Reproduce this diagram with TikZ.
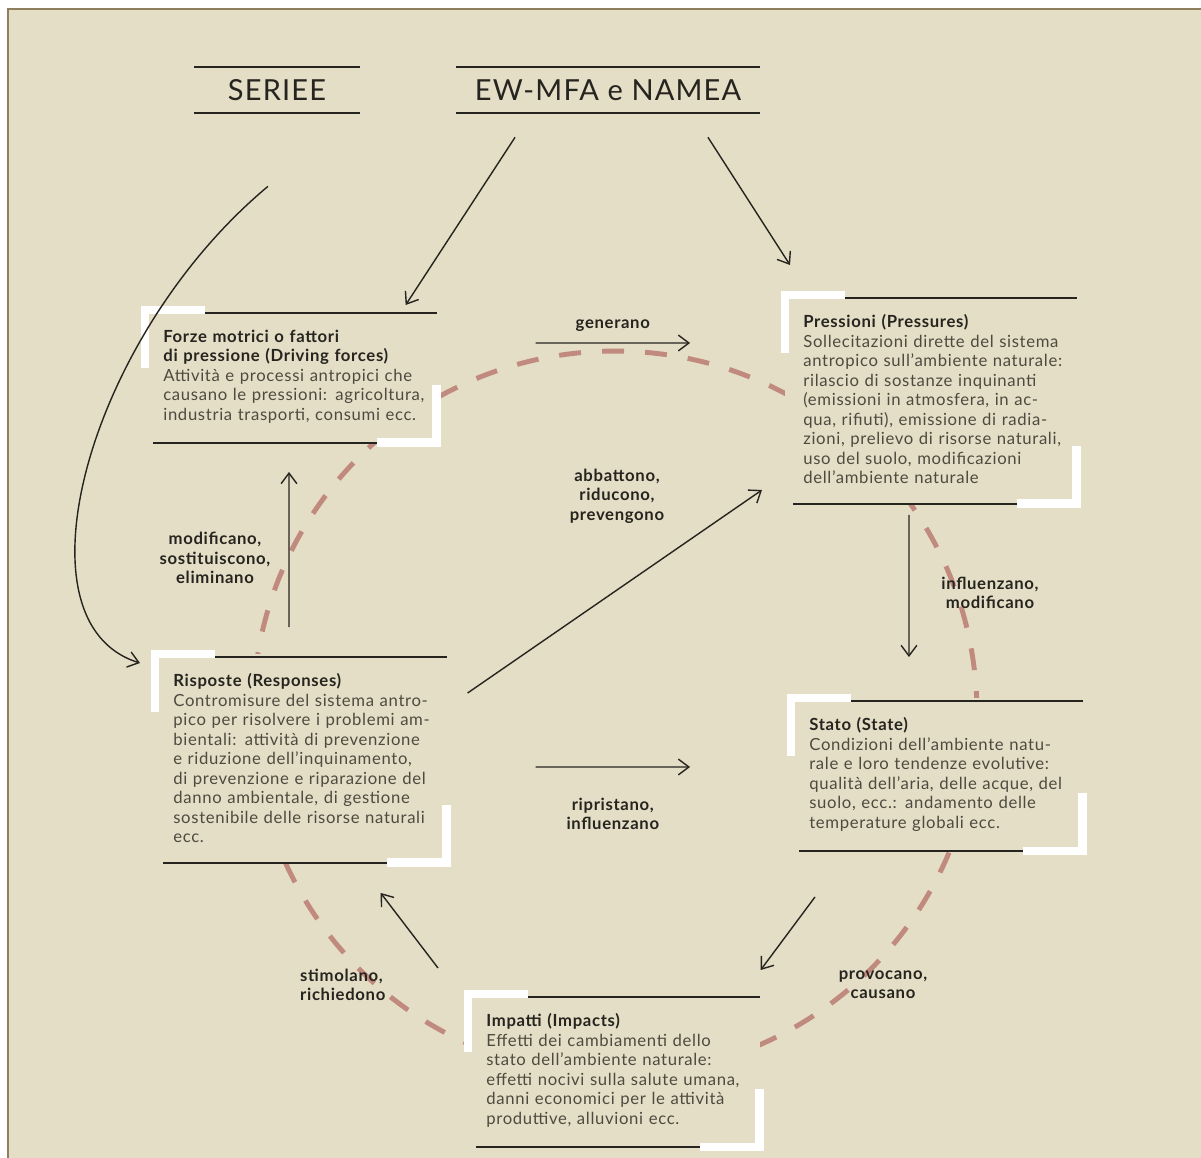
\documentclass[tikz,border=0pt]{standalone}
\usepackage{fontspec}
\setmainfont{Lato}
\newfontfamily\widefont[LetterSpace=4.0]{Lato}
\usepackage{tikz}
\usetikzlibrary{positioning,arrows.meta,backgrounds}

\definecolor{paper}{HTML}{E4DEC6}
\definecolor{rim}{HTML}{8E7F5E}
\definecolor{ink}{HTML}{26241F}
\definecolor{bodytext}{HTML}{4E4A3F}
\definecolor{ringred}{HTML}{C08A7E}

\begin{document}
\begin{tikzpicture}[x=0.02cm, y=-0.02cm,
    panel/.style={anchor=north west, text width=5.46cm, align=left, inner xsep=0pt, inner ysep=11pt, text=bodytext, font=\widefont\fontsize{9.5}{11.1}\selectfont},
    heading/.style={minimum width=3.3cm, minimum height=0.9cm, inner sep=0pt, text=ink, font=\widefont\fontsize{16.5}{19}\selectfont},
    lbl/.style={align=center, text=ink, font=\widefont\fontsize{9.5}{11}\selectfont\bfseries},
    flow/.style={draw=ink, line width=0.8pt, -{Straight Barb[length=6pt,width=9pt]}},
    blackrule/.style={draw=ink, line width=1.2pt},
    whitebar/.style={draw=white, line width=4.8pt, line join=miter},
    ring/.style={draw=ringred, line width=2.8pt, dash pattern=on 12.5pt off 12pt}]
\useasboundingbox (0,0) rectangle (1201,1158);

% headings
\node[heading] (seriee) at (277,90) {SERIEE};
\node[heading, minimum width=6.06cm] (ewmfa) at (608,90) {EW-MFA e NAMEA};
\foreach \h in {seriee,ewmfa}
    \draw[blackrule] (\h.north west) -- (\h.north east) (\h.south west) -- (\h.south east);

% DPSIR panels
\node[panel] (df) at (163,310) {{\color{ink}\bfseries Forze motrici o fattori}\\
    {\color{ink}\bfseries di pressione (Driving forces)}\\
    Attività e processi antropici che\\
    causano le pressioni: agricoltura,\\
    industria trasporti, consumi ecc.};
\node[panel] (pr) at (803,295) {{\color{ink}\bfseries Pressioni (Pressures)}\\
    Sollecitazioni dirette del sistema\\
    antropico sull’ambiente naturale:\\
    rilascio di sostanze inquinanti\\
    (emissioni in atmosfera, in ac-\\
    qua, rifiuti), emissione di radia-\\
    zioni, prelievo di risorse naturali,\\
    uso del suolo, modificazioni\\
    dell’ambiente naturale};
\node[panel] (rs) at (173,654) {{\color{ink}\bfseries Risposte (Responses)}\\
    Contromisure del sistema antro-\\
    pico per risolvere i problemi am-\\
    bientali: attività di prevenzione\\
    e riduzione dell’inquinamento,\\
    di prevenzione e riparazione del\\
    danno ambientale, di gestione\\
    sostenibile delle risorse naturali\\
    ecc.};
\node[panel] (st) at (809,698) {{\color{ink}\bfseries Stato (State)}\\
    Condizioni dell’ambiente natu-\\
    rale e loro tendenze evolutive:\\
    qualità dell’aria, delle acque, del\\
    suolo, ecc.: andamento delle\\
    temperature globali ecc.};
\node[panel] (im) at (486,994) {{\color{ink}\bfseries Impatti (Impacts)}\\
    Effetti dei cambiamenti dello\\
    stato dell’ambiente naturale:\\
    effetti nocivi sulla salute umana,\\
    danni economici per le attività\\
    produttive, alluvioni ecc.};

% paper, dashed cycle and panel backgrounds
\begin{scope}[on background layer]
    \fill[white] (0,0) rectangle (1201,1158);
    \fill[paper] (8,9) rectangle (1201,1158);
    \draw[rim, line width=1.2pt] (8,1158) -- (8,9) -- (1201,9);
    \draw[ring] (615,713) circle (7.24cm);
    \foreach \n in {df,pr,rs,st,im}
        \fill[paper] ([xshift=-0.36cm]\n.north west) rectangle (\n.south east);
\end{scope}

% bracket frames
\foreach \n in {df,pr,rs,st,im}{
    \draw[whitebar] ([xshift=-0.36cm,yshift=-1.16cm]\n.north west) |- ([xshift=0.84cm]\n.north west);
    \draw[blackrule] ([xshift=0.84cm,yshift=-0.06cm]\n.north west) -- ([yshift=-0.06cm]\n.north east);
    \draw[blackrule] ([xshift=-0.2cm]\n.south west) -- ([xshift=-1.2cm]\n.south east);
    \draw[whitebar] ([xshift=-1.2cm]\n.south east) -| ([yshift=1.16cm]\n.south east);
}

% accounts feeding the framework
\draw[flow] ([xshift=-0.18cm,yshift=-1.47cm]seriee.south) .. controls +(-180,150) and +(-130,-40) .. ([xshift=-0.66cm,yshift=-0.18cm]rs.north west);
\draw[flow] ([xshift=-1.86cm,yshift=-0.49cm]ewmfa.south) -- ([xshift=-0.62cm,yshift=0.1cm]df.north east);
\draw[flow] ([xshift=2cm,yshift=-0.49cm]ewmfa.south) -- ([xshift=-0.26cm,yshift=0.6cm]pr.north west);

% causal links
\draw[flow] ([xshift=1.98cm,yshift=-0.66cm]df.north east) -- node[lbl, above=3pt] (gen) {generano} ([xshift=-2.26cm,yshift=-0.96cm]pr.north west);
\draw[flow] ([xshift=2.12cm,yshift=-4.4cm]pr.north west) -- ([xshift=2cm,yshift=0.82cm]st.north west);
\draw[flow] ([xshift=0.12cm,yshift=-3.98cm]st.north west) -- ([xshift=0.02cm,yshift=0.48cm]im.north east);
\draw[flow] ([xshift=-0.96cm,yshift=0.52cm]im.north west) -- ([xshift=-1.32cm,yshift=-4.78cm]rs.north east);
\draw[flow] ([xshift=2.32cm,yshift=0.54cm]rs.north west) -- ([xshift=2.52cm,yshift=-3.24cm]df.north west);
\draw[flow] ([xshift=0.42cm,yshift=-0.78cm]rs.north east) -- ([xshift=-0.82cm,yshift=-3.9cm]pr.north west);
\draw[flow] ([xshift=1.78cm,yshift=-2.26cm]rs.north east) -- node[lbl, below=14pt] (rip) {ripristano,\\ influenzano} ([xshift=-2.38cm,yshift=-1.38cm]st.north west);

\node[lbl] (abb) at (617,496) {abbattono,\\ riducono,\\ prevengono};
\node[lbl] (mod) at (215,558) {modificano,\\ sostituiscono,\\ eliminano};
\node[lbl] (inf) at (990,593) {influenzano,\\ modificano};
\node[lbl] (pro) at (883,985) {provocano,\\ causano};
\node[lbl, anchor=west, align=left] (sti) at (294,985) {stimolano,\\ richiedono};
\end{tikzpicture}
\end{document}
